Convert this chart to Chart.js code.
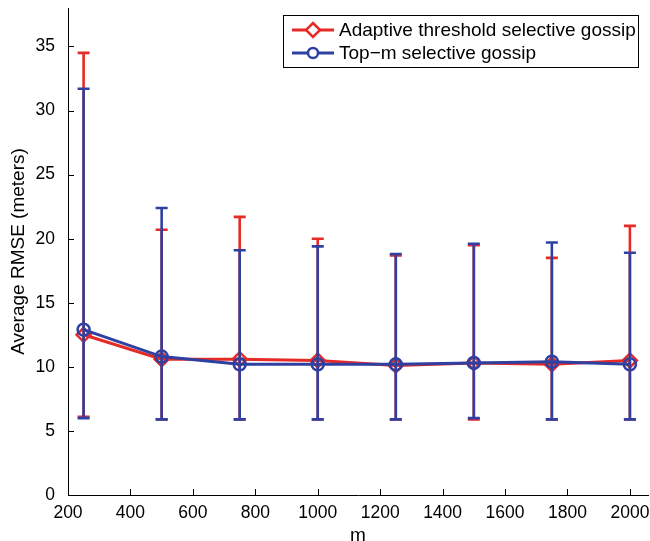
<!DOCTYPE html>
<html><head><meta charset="utf-8">
<script src="https://cdn.jsdelivr.net/npm/chart.js@4.4.1/dist/chart.umd.min.js"></script>
<style>html,body{margin:0;padding:0;background:#fff}#wrap{width:650px;height:541px}</style>
</head><body><div id="wrap"><canvas id="c" width="650" height="541"></canvas></div>
<script>
const mValues = [250, 500, 750, 1000, 1250, 1500, 1750, 2000];
const adaptiveMean  = [12.5, 10.6, 10.6, 10.5, 10.1, 10.3, 10.2, 10.5];
const adaptiveUpper = [34.5, 20.7, 21.7, 20.0, 18.7, 19.5, 18.5, 21.0];
const adaptiveLower = [6.1, 5.9, 5.9, 5.9, 5.9, 5.9, 5.9, 5.9];
const topmMean  = [12.9, 10.8, 10.2, 10.2, 10.2, 10.3, 10.4, 10.2];
const topmUpper = [31.7, 22.4, 19.1, 19.4, 18.8, 19.6, 19.7, 18.9];
const topmLower = [6.0, 5.9, 5.9, 5.9, 5.9, 6.0, 5.9, 5.9];
const seriesNames = ['Adaptive threshold selective gossip', 'Top\u2212m selective gossip'];
const xTickStep = 200, yTickStep = 5;

const RED = 'rgb(230,42,38)', BLUE = 'rgb(48,64,160)';
const FONT = '"Liberation Sans", Arial, Helvetica, sans-serif';

const errorBars = [
  {upper: adaptiveUpper, lower: adaptiveLower},
  {upper: topmUpper, lower: topmLower}
];

const errPlugin = {
  id: 'errbars',
  beforeDatasetDraw(chart, args) {
    const i = args.index;
    const ds = chart.data.datasets[i];
    const xs = chart.scales.x, ys = chart.scales.y;
    const ctx = chart.ctx;
    ctx.save();
    ctx.strokeStyle = ds.borderColor;
    ctx.lineWidth = 2.6;
    ctx.lineCap = 'butt';
    ds.data.forEach((p, j) => {
      const px = xs.getPixelForValue(p.x);
      const pu = ys.getPixelForValue(errorBars[i].upper[j]);
      const pl = ys.getPixelForValue(errorBars[i].lower[j]);
      ctx.beginPath();
      ctx.moveTo(px, pu); ctx.lineTo(px, pl);
      ctx.moveTo(px - 6, pu); ctx.lineTo(px + 6, pu);
      ctx.moveTo(px - 6, pl); ctx.lineTo(px + 6, pl);
      ctx.stroke();
    });
    ctx.restore();
  },
  afterDraw(chart) {
    const ctx = chart.ctx;
    const xs = chart.scales.x, ys = chart.scales.y;
    const ca = chart.chartArea;
    ctx.save();
    ctx.strokeStyle = '#000'; ctx.lineWidth = 1;
    ctx.beginPath();
    xs.ticks.forEach(t => {
      const px = Math.round(xs.getPixelForValue(t.value)) + 0.5;
      ctx.moveTo(px, ca.bottom); ctx.lineTo(px, ca.bottom - 6);
    });
    ys.ticks.forEach(t => {
      const py = Math.round(ys.getPixelForValue(t.value)) + 0.5;
      ctx.moveTo(ca.left, py); ctx.lineTo(ca.left + 6, py);
    });
    ctx.stroke();
    // legend
    const lx = 283.5, ly = 15.5, lw = 355, lh = 52;
    ctx.fillStyle = '#fff';
    ctx.fillRect(lx, ly, lw, lh);
    ctx.strokeStyle = '#000'; ctx.lineWidth = 1;
    ctx.strokeRect(lx, ly, lw, lh);
    const rows = [
      {name: seriesNames[0], color: RED, y: 30, marker: 'diamond'},
      {name: seriesNames[1], color: BLUE, y: 53, marker: 'circle'}
    ];
    rows.forEach(r => {
      ctx.strokeStyle = r.color; ctx.lineWidth = 3;
      ctx.beginPath(); ctx.moveTo(292, r.y); ctx.lineTo(334, r.y); ctx.stroke();
      ctx.lineWidth = 2.5;
      ctx.beginPath();
      if (r.marker === 'diamond') {
        ctx.moveTo(313, r.y - 7); ctx.lineTo(320, r.y); ctx.lineTo(313, r.y + 7); ctx.lineTo(306, r.y); ctx.closePath();
      } else {
        ctx.arc(313, r.y, 5, 0, Math.PI * 2);
      }
      ctx.fillStyle = '#fff'; ctx.fill(); ctx.stroke();
      ctx.fillStyle = '#000';
      ctx.font = '19px ' + FONT;
      ctx.textAlign = 'left'; ctx.textBaseline = 'middle';
      ctx.fillText(r.name, 339, r.y + 1);
    });
    ctx.restore();
  }
};

new Chart(document.getElementById('c'), {
  type: 'line',
  data: {
    datasets: [
      {
        label: seriesNames[0], order: 1,
        data: mValues.map((m, i) => ({x: m, y: adaptiveMean[i]})),
        borderColor: RED, backgroundColor: 'rgba(255,255,255,0)',
        borderWidth: 3, pointStyle: 'rectRot', pointRadius: 7,
        pointBorderWidth: 2.5, pointBorderColor: RED, pointBackgroundColor: 'rgba(255,255,255,0)',
        tension: 0
      },
      {
        label: seriesNames[1], order: 0,
        data: mValues.map((m, i) => ({x: m, y: topmMean[i]})),
        borderColor: BLUE, backgroundColor: 'rgba(255,255,255,0)',
        borderWidth: 3, pointStyle: 'circle', pointRadius: 6,
        pointBorderWidth: 2.5, pointBorderColor: BLUE, pointBackgroundColor: 'rgba(255,255,255,0)',
        tension: 0
      }
    ]
  },
  options: {
    responsive: false,
    animation: false,
    devicePixelRatio: 1,
    layout: {autoPadding: false, padding: {top: 8, right: 2, left: 0, bottom: 0}},
    plugins: {legend: {display: false}, tooltip: {enabled: false}},
    scales: {
      x: {
        type: 'linear', min: 200, max: 2058,
        ticks: {stepSize: xTickStep, includeBounds: false, color: '#000', font: {family: FONT, size: 17.5}, padding: 0, maxRotation: 0,
                callback: v => String(v)},
        grid: {display: false},
        border: {display: true, color: '#000', width: 1},
        title: {display: true, text: 'm', color: '#000', font: {family: FONT, size: 19}, padding: {top: 6, bottom: -6}},
        afterFit(s) { s.height = 46; s.paddingLeft = 0; s.paddingRight = 0; }
      },
      y: {
        min: 0, max: 38,
        ticks: {stepSize: yTickStep, includeBounds: false, color: '#000', font: {family: FONT, size: 17.5}, padding: 5,
                callback: v => String(v)},
        grid: {display: false},
        border: {display: true, color: '#000', width: 1},
        title: {display: true, text: 'Average RMSE (meters)', color: '#000', font: {family: FONT, size: 19}, padding: {top: 7, bottom: 4}},
        afterFit(s) { s.width = 68; s.paddingTop = 0; s.paddingBottom = 0; }
      }
    }
  },
  plugins: [errPlugin]
});
</script>
</body></html>
